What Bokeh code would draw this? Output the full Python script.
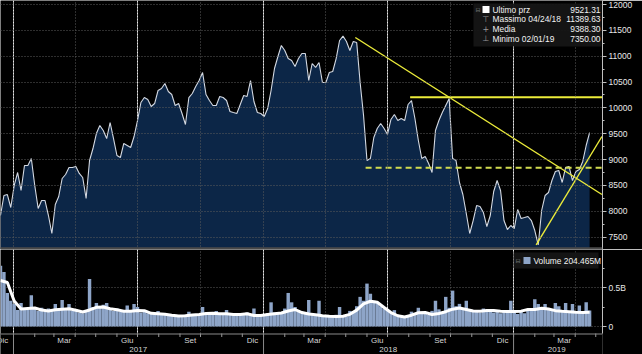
import pandas as pd
from bokeh.plotting import figure
from bokeh.models import Range1d, FixedTicker, Grid, Span, Label, BoxAnnotation
from bokeh.core.properties import value
from bokeh.layouts import column
from bokeh.embed import file_html
from bokeh.resources import INLINE

# ---------------- data ----------------
price_values = [
    7919, 8306, 8325, 8074, 8500, 8751, 8403, 8886, 8886, 9022,
    8500, 8055, 8209, 8209, 7919, 7571, 8132, 8287, 8635, 8712,
    8848, 8848, 8867, 8732, 8654, 8248, 8983, 9215, 9505, 9660,
    9563, 9408, 9718, 9408, 9080, 9041, 9312, 9273, 9234, 9447,
    9756, 10105, 10201, 10163, 10027, 10085, 10337, 10375, 10472, 10318,
    10259, 10047, 10085, 9892, 9679, 10201, 10279, 10414, 10530, 10685,
    10259, 10143, 10047, 10047, 10221, 10201, 10143, 9931, 9911, 9892,
    10066, 10240, 10221, 10530, 10124, 9911, 9892, 9834, 9988, 10337,
    10762, 10994, 11207, 11110, 10955, 10917, 10801, 10955, 11052, 11052,
    10530, 10859, 10782, 10878, 10491, 10491, 10685, 10704, 10955, 11304,
    11390, 11284, 11110, 11284, 11265, 10491, 9853, 8983, 9022, 9428,
    9602, 9698, 9602, 9486, 9776, 9873, 9756, 9795, 9756, 10066,
    10143, 9795, 9370, 9022, 9060, 8925, 8751, 9563, 9756, 9911,
    10047, 10182, 9022, 8983, 8558, 8325, 7958, 7571, 7822, 8112,
    8093, 7977, 7706, 7919, 8383, 8596, 8402, 7822, 7648, 7726,
    7667, 8035, 7861, 7880, 7900, 7822, 7629, 7350, 8016, 8306,
    8364, 8596, 8770, 8790, 8558, 8848, 8867, 8596, 8770, 8809,
    8964, 9273, 9521.31,
]

volume_millions = [
    780, 700, 430, 330, 290, 210, 300, 230, 210, 400,
    230, 200, 240, 190, 230, 200, 290, 220, 340, 230,
    290, 200, 220, 180, 170, 200, 610, 250, 300, 240,
    280, 300, 220, 200, 230, 190, 200, 270, 210, 290,
    250, 180, 200, 170, 160, 175, 200, 150, 160, 145,
    140, 150, 130, 140, 150, 190, 140, 160, 150, 250,
    170, 165, 180, 200, 160, 150, 210, 160, 150, 165,
    150, 170, 180, 140, 230, 140, 130, 150, 170, 310,
    180, 170, 180, 230, 430, 310, 250, 190, 170, 180,
    340, 150, 160, 330, 140, 130, 140, 125, 150, 250,
    140, 130, 200, 180, 260, 380, 330, 550, 420, 330,
    300, 260, 230, 200, 180, 210, 140, 130, 115, 130,
    190, 160, 240, 190, 170, 150, 200, 330, 220, 180,
    380, 240, 460, 260, 290, 230, 330, 220, 190, 210,
    180, 230, 190, 220, 180, 200, 170, 190, 210, 330,
    180, 160, 190, 170, 200, 230, 350, 290, 230, 290,
    220, 200, 300, 260, 190, 300, 190, 290, 180, 270,
    170, 310, 204.465,
]

volume_avg_millions = [
    590, 564, 327, 224, 231, 237, 212, 199, 214, 222,
    227, 209, 186, 212, 246, 250, 228, 214, 196, 196,
    205, 203, 169, 163, 156, 145, 135, 138, 147, 154,
    168, 171, 164, 163, 154, 154, 163, 141, 141, 154,
    164, 173, 199, 218, 179, 160, 150, 138, 131, 128,
    131, 156, 210, 290, 324, 310, 244, 179, 138, 122,
    145, 176, 179, 154, 167, 190, 222, 237, 218, 199,
    196, 205, 205, 196, 192, 192, 197, 218, 218, 235,
    224, 203, 195, 190, 182, 179, 183,
]

series_start = "2016-12-13"
price_ticks = [7500, 8000, 8500, 9000, 9500, 10000, 10500, 11000, 11500, 12000]
price_minor_ticks = [7750, 8250, 8750, 9250, 9750, 10250, 10750, 11250, 11750]
volume_ticks = [0, 500_000_000]
volume_tick_labels = ["0", "0.5B"]
volume_minor_ticks = [250_000_000, 750_000_000]

month_label_dates = ["2016-12-16", "2017-03-16", "2017-06-16", "2017-09-16", "2017-12-16",
                     "2018-03-16", "2018-06-16", "2018-09-16", "2018-12-16", "2019-03-16"]
month_labels = ["Dic", "Mar", "Giu", "Set", "Dic", "Mar", "Giu", "Set", "Dic", "Mar"]
year_label_dates = ["2017-07-02", "2018-07-02", "2019-03-05"]
year_labels = ["2017", "2018", "2019"]
year_starts = ["2017-01-01", "2018-01-01", "2019-01-01"]

legend_labels = ["Ultimo prz", "Massimo 04/24/18", "Media", "Minimo 02/01/19"]
legend_values = ["9521.31", "11389.63", "9388.30", "7350.00"]
last_price = 9521.31
last_volume_m = 204.465

trend_down_dates = ["2018-05-15", "2019-05-10"]
trend_down_values = [11362, 8325]
resistance_dates = ["2018-08-03", "2019-05-11"]
resistance_values = [10207, 10207]
support_dates = ["2018-05-30", "2019-05-11"]
support_values = [8842, 8842]
trend_up_dates = ["2019-02-03", "2019-05-10"]
trend_up_values = [7350, 9447]

# ---------------- helpers ----------------
def ms(d):
    return pd.Timestamp(d).value // 10**6

FONT = "Liberation Sans"
price_dates = pd.date_range(series_start, periods=len(price_values), freq="5D")
avg_dates = pd.date_range(series_start, periods=len(volume_avg_millions), freq="10D")
quarter_starts = pd.date_range("2017-01-01", "2019-04-01", freq="QS")
month_starts = pd.date_range("2016-12-01", "2019-05-01", freq="MS")

x_range = Range1d(pd.Timestamp("2016-12-13"), pd.Timestamp("2019-05-10 20:00"))
Y_TOP = 12077.4
PX = 19.34            # price units per pixel
P_H = 249
Y_BOT = Y_TOP - P_H * PX

COMMON = dict(width=642, x_axis_type="datetime", x_range=x_range, output_backend="svg",
              toolbar_location=None, min_border_left=0, min_border_right=40,
              min_border_top=0, min_border_bottom=0, background_fill_color="black",
              border_fill_color="black", outline_line_color=None)

def style_right_axis(ax):
    ax.axis_line_color = "#bfbfbf"
    ax.major_tick_line_color = "#bfbfbf"
    ax.minor_tick_line_color = "#bfbfbf"
    ax.major_tick_out = 4
    ax.major_tick_in = 0
    ax.minor_tick_out = 2
    ax.minor_tick_in = 0
    ax.major_label_standoff = 2
    ax.major_label_text_font = FONT
    ax.major_label_text_font_size = "8.5px"
    ax.major_label_text_color = "#e8e8e8"

GRID_COLOR = "#5c5c5c"
GRID_DASH = "1 2"

def quarter_grid(level):
    return Grid(dimension=0, ticker=FixedTicker(ticks=[ms(d) for d in quarter_starts]),
                grid_line_color=GRID_COLOR, grid_line_dash=GRID_DASH, level=level)

# ---------------- price panel ----------------
p1 = figure(height=P_H, y_range=Range1d(Y_BOT, Y_TOP), x_axis_location=None,
            y_axis_location="right", **COMMON)

pax = p1.yaxis[0]
pax.ticker = FixedTicker(ticks=price_ticks, minor_ticks=price_minor_ticks)
style_right_axis(pax)
p1.ygrid.grid_line_color = GRID_COLOR
p1.ygrid.grid_line_dash = GRID_DASH
p1.ygrid.level = "guide"
p1.add_layout(quarter_grid("guide"))

p1.varea(x=price_dates, y1=Y_BOT - 200, y2=price_values, fill_color="#0c2647")
p1.line(price_dates, price_values, line_color="#d4d9e2", line_width=1.1)

YEL = "#ecec3a"
p1.line(pd.to_datetime(trend_down_dates), trend_down_values, line_color=YEL, line_width=1.4)
p1.line(pd.to_datetime(resistance_dates), resistance_values, line_color=YEL, line_width=2)
p1.line(pd.to_datetime(support_dates), support_values, line_color="#d2dc50", line_width=2,
        line_dash="6 4")
p1.line(pd.to_datetime(trend_up_dates), trend_up_values, line_color=YEL, line_width=1.4)

p1.add_layout(Span(location=Y_BOT + 1.2 * PX, dimension="width", line_color="#4a4a4a", line_width=2))

def py(px):
    return Y_TOP - px * PX

p1.add_layout(BoxAnnotation(left=473, right=601, left_units="screen", right_units="screen",
                            top=py(3), bottom=py(46), fill_color="#151515", fill_alpha=0.95,
                            line_color=None, level="annotation"))
p1.add_layout(BoxAnnotation(left=482, right=489, left_units="screen", right_units="screen",
                            top=py(5.5), bottom=py(12.5), fill_color="white", fill_alpha=1,
                            line_color=None, level="annotation"))
row_px = [9, 18.6, 28.4, 38.3]
icons = ["", "\u22a4", "+", "\u22a5"]
p1.add_layout(Label(x=475, y=py(9), x_units="screen", text="\u229f", text_font="DejaVu Sans",
                    text_font_size="6px", text_color="#7d7d7d", text_baseline="middle"))
for k in range(4):
    if icons[k]:
        p1.add_layout(Label(x=482, y=py(row_px[k]), x_units="screen", text=icons[k],
                            text_font="DejaVu Sans", text_font_size="8px", text_color="#9a9a9a",
                            text_baseline="middle"))
    p1.add_layout(Label(x=492, y=py(row_px[k]), x_units="screen", text=legend_labels[k],
                        text_font=FONT, text_font_size="8.4px", text_color="#f2f2f2",
                        text_baseline="middle"))
    p1.add_layout(Label(x=600, y=py(row_px[k]), x_units="screen", text=legend_values[k],
                        text_font=FONT, text_font_size="8.4px", text_color="#f2f2f2",
                        text_baseline="middle", text_align="right"))

p1.add_layout(Label(x=605, y=last_price, x_units="screen", text=f"{last_price:.2f}",
                    text_font=FONT, text_font_size="8.5px", text_color="#111111",
                    text_baseline="middle", background_fill_color="#efefef",
                    border_line_color="#9a9a9a"))

# ---------------- volume panel + time strip (one frame, 105 px) ----------------
B_H = 354 - P_H                    # 105 px
VPX = 1e9 / 78                     # volume units per pixel
ZERO_PX = 326 - P_H                # 0 volume sits 77 px below the panel top
V_TOP = ZERO_PX * VPX
V_BOT = -(B_H - ZERO_PX) * VPX     # bottom of the strip
STRIP_TOP = -(333 - 326) * VPX     # the time axis line

def vy(page_px):
    return (326 - page_px) * VPX

p2 = figure(height=B_H, y_range=Range1d(V_BOT, V_TOP), x_axis_location=None,
            y_axis_location="right", **COMMON)

vax = p2.yaxis[0]
vax.ticker = FixedTicker(ticks=volume_ticks, minor_ticks=volume_minor_ticks)
vax.major_label_overrides = {t: s for t, s in zip(volume_ticks, volume_tick_labels)}
vax.bounds = (STRIP_TOP, V_TOP)
style_right_axis(vax)
p2.ygrid.grid_line_color = GRID_COLOR
p2.ygrid.grid_line_dash = GRID_DASH
p2.ygrid.level = "underlay"
p2.add_layout(quarter_grid("underlay"))

vol = [v * 1e6 for v in volume_millions]
avg = [v * 1e6 for v in volume_avg_millions]
p2.vbar(x=price_dates, top=vol, bottom=0, width=5 * 86400000, fill_color="#8ea5c8",
        line_color=None)
p2.line(avg_dates, avg, line_color="white", line_width=3)

# black strip that hides the grid below the axis line
p2.quad(left=[x_range.start], right=[x_range.end], top=[STRIP_TOP], bottom=[V_BOT - VPX],
        fill_color="black", line_color=None)
p2.add_layout(Span(location=STRIP_TOP - 0.5 * VPX, dimension="width", line_color="#8a8a8a",
                   line_width=1))
ms_dates = list(month_starts)
p2.segment(x0=ms_dates, y0=[STRIP_TOP] * len(ms_dates), x1=ms_dates,
           y1=[vy(336.5)] * len(ms_dates), line_color="#9a9a9a", line_width=1)
ys = pd.to_datetime(year_starts)
p2.segment(x0=ys, y0=[STRIP_TOP] * len(ys), x1=ys, y1=[V_BOT - VPX] * len(ys),
           line_color="#8a8a8a", line_width=1)
p2.text(x=pd.to_datetime(month_label_dates), y=[vy(339.5)] * len(month_labels), text=month_labels,
        text_font=value(FONT), text_font_size="8px", text_color="#d6d6d6",
        text_align="center", text_baseline="middle")
p2.text(x=pd.to_datetime(year_label_dates), y=[vy(349)] * len(year_labels), text=year_labels,
        text_font=value(FONT), text_font_size="8px", text_color="#d6d6d6",
        text_align="center", text_baseline="middle")

p2.add_layout(BoxAnnotation(left=513, right=598, left_units="screen", right_units="screen",
                            top=vy(252), bottom=vy(268), fill_color="#151515", fill_alpha=0.95,
                            line_color=None, level="annotation"))
p2.add_layout(BoxAnnotation(left=523, right=530, left_units="screen", right_units="screen",
                            top=vy(256.5), bottom=vy(263.5), fill_color="#8ea5c8", fill_alpha=1,
                            line_color=None, level="annotation"))
p2.add_layout(Label(x=515, y=vy(260), x_units="screen", text="\u229f", text_font="DejaVu Sans",
                    text_font_size="6px", text_color="#7d7d7d", text_baseline="middle"))
p2.add_layout(Label(x=533, y=vy(260), x_units="screen", text=f"Volume {last_volume_m:.3f}M",
                    text_font=FONT, text_font_size="8.4px", text_color="#f2f2f2",
                    text_baseline="middle"))
p2.add_layout(Label(x=604, y=last_volume_m * 1e6, x_units="screen", text=f"{last_volume_m:.3f}M",
                    text_font=FONT, text_font_size="8.5px", text_color="#eef3ff",
                    text_baseline="middle", background_fill_color="#6d8bbb",
                    border_line_color="#4a628a"))

layout = column(p1, p2, spacing=0)
open("out.html", "w").write(file_html(layout, INLINE))
